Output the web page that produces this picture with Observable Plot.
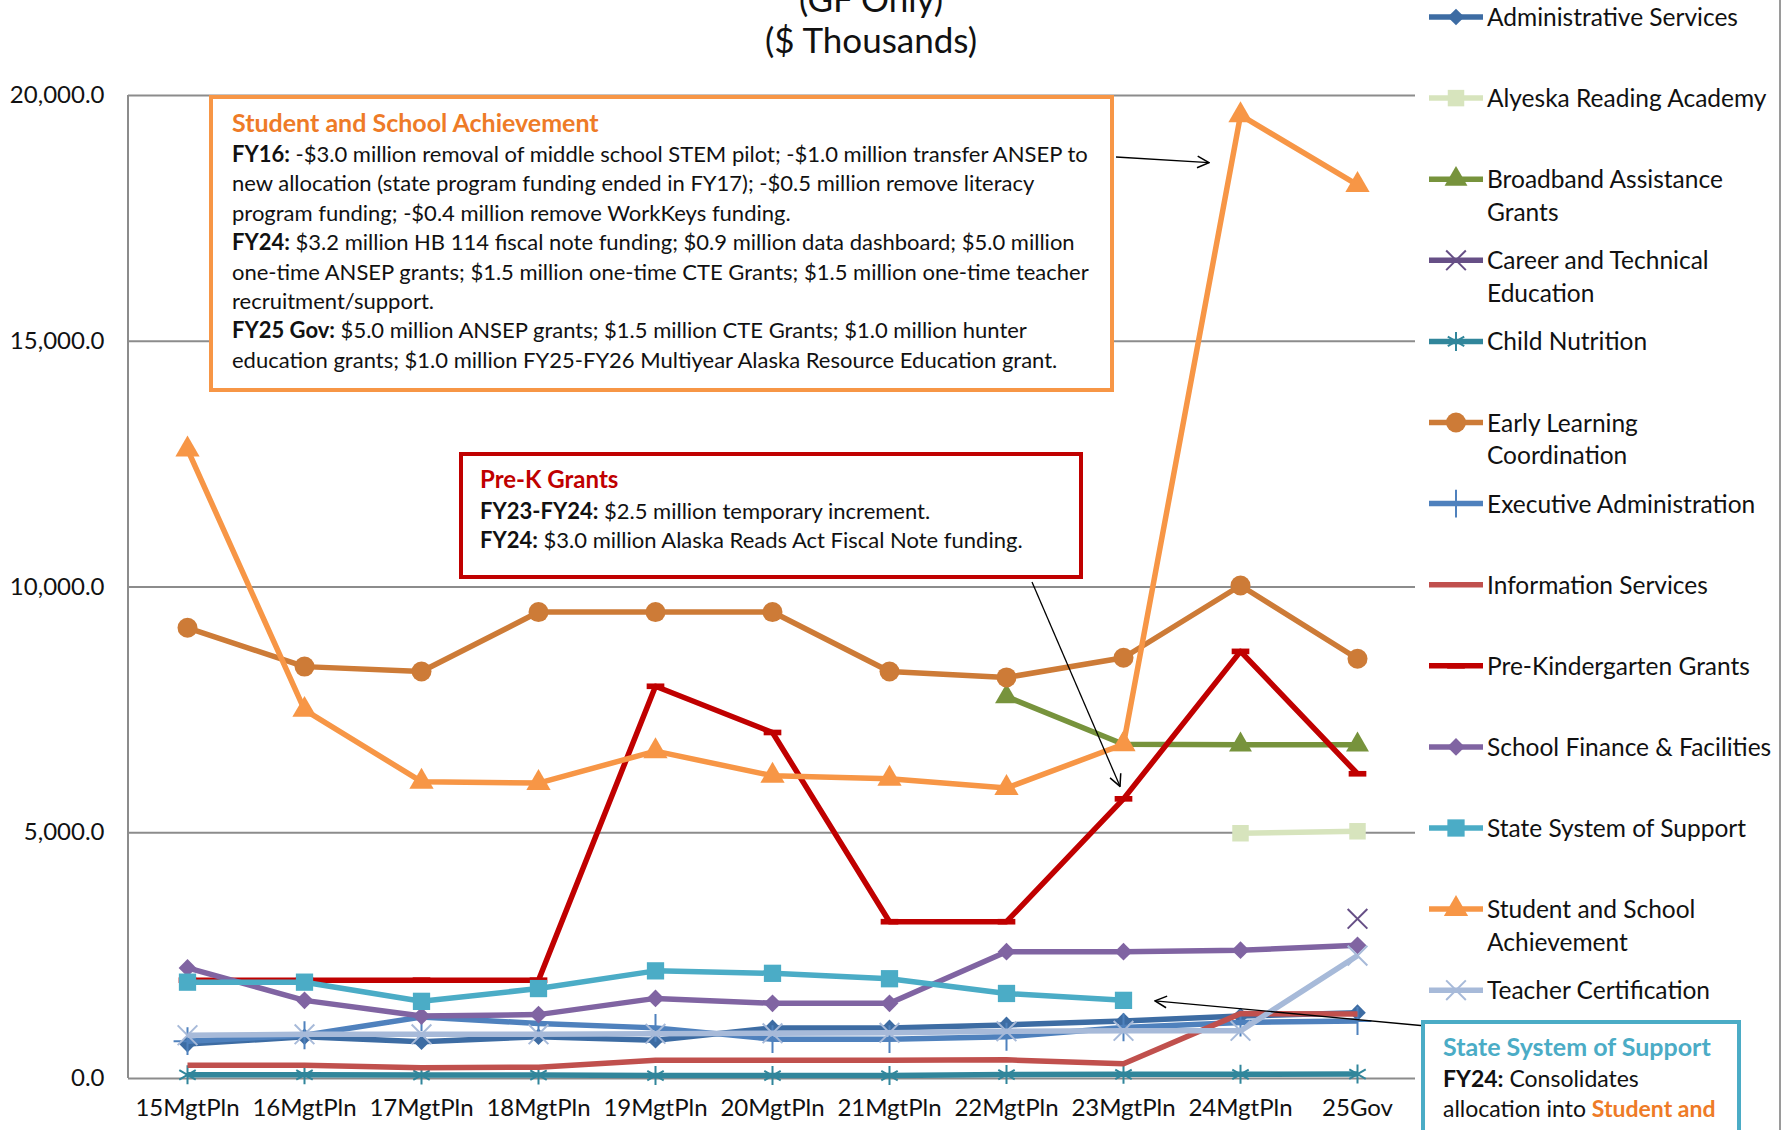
<!DOCTYPE html>
<html><head><meta charset="utf-8">
<script src="https://cdn.jsdelivr.net/npm/d3@7"></script>
<script src="https://cdn.jsdelivr.net/npm/@observablehq/plot@0.6"></script>
<style>
html,body{margin:0;padding:0;background:#fff;overflow:hidden;}
#chart{position:relative;width:1792px;height:1130px;overflow:hidden;}
</style></head><body><div id="chart"></div>
<script>
// ---------- data ----------
const categories = ["15MgtPln","16MgtPln","17MgtPln","18MgtPln","19MgtPln","20MgtPln","21MgtPln","22MgtPln","23MgtPln","24MgtPln","25Gov"];
const administrativeServices   = [700, 850, 750, 850, 780, 1030, 1030, 1090, 1170, 1270, 1340];
const alyeskaReadingAcademy    = [null, null, null, null, null, null, null, null, null, 4990, 5030];
const broadbandAssistance      = [null, null, null, null, null, null, null, 7770, 6800, 6790, 6790];
const careerTechnical          = [null, null, null, null, null, null, null, null, null, null, 3250];
const childNutrition           = [75, 75, 70, 70, 60, 60, 60, 80, 85, 85, 90];
const earlyLearning            = [9170, 8380, 8280, 9490, 9490, 9490, 8280, 8160, 8560, 10030, 8540];
const executiveAdministration  = [760, 880, 1250, 1120, 1030, 800, 800, 850, 1040, 1140, 1170];
const informationServices      = [270, 270, 220, 230, 370, 370, 370, 380, 300, 1320, 1310];
const preKindergartenGrants    = [2000, 2000, 2000, 2000, 7980, 7040, 3190, 3190, 5690, 8690, 6200];
const schoolFinance            = [2250, 1590, 1270, 1300, 1630, 1530, 1530, 2580, 2580, 2610, 2710];
const stateSystemOfSupport     = [1960, 1960, 1570, 1830, 2190, 2140, 2030, 1730, 1590, null, null];
const studentSchoolAchievement = [12800, 7500, 6040, 6010, 6660, 6160, 6100, 5910, 6800, 19600, 18180];
const teacherCertification     = [880, 900, 900, 900, 910, 920, 930, 960, 970, 970, 2500];
const yTicks = [0, 5000, 10000, 15000, 20000];
const seriesNames = ["Administrative Services","Alyeska Reading Academy","Broadband Assistance Grants","Career and Technical Education","Child Nutrition","Early Learning Coordination","Executive Administration","Information Services","Pre-Kindergarten Grants","School Finance & Facilities","State System of Support","Student and School Achievement","Teacher Certification"];
const seriesValues = [administrativeServices, alyeskaReadingAcademy, broadbandAssistance, careerTechnical, childNutrition, earlyLearning, executiveAdministration, informationServices, preKindergartenGrants, schoolFinance, stateSystemOfSupport, studentSchoolAchievement, teacherCertification];
const legendLines = [["Administrative Services"],["Alyeska Reading Academy"],["Broadband Assistance","Grants"],["Career and Technical","Education"],["Child Nutrition"],["Early Learning","Coordination"],["Executive Administration"],["Information Services"],["Pre-Kindergarten Grants"],["School Finance & Facilities"],["State System of Support"],["Student and School","Achievement"],["Teacher Certification"]];

// ---------- styles ----------
const dash = {draw(ctx, size){ const w = Math.sqrt(size)*1.05, h = w*0.32; ctx.rect(-w/2, -h/2, w, h); }};
const styles = [
  {color:"#3D6CA3", symbol:d3.symbolDiamond2, fill:true, r:7.5},
  {color:"#D7E4BD", symbol:d3.symbolSquare2, fill:true, r:10.5},
  {color:"#77933C", symbol:d3.symbolTriangle, fill:true, r:8.5},
  {color:"#664F86", symbol:d3.symbolTimes, fill:false, r:9},
  {color:"#31869B", symbol:d3.symbolAsterisk, fill:false, r:9},
  {color:"#CD7B37", symbol:d3.symbolCircle, fill:true, r:10},
  {color:"#4F81BD", symbol:d3.symbolPlus, fill:false, r:9},
  {color:"#C0504D", symbol:null},
  {color:"#C00000", symbol:dash, fill:true, r:9.5},
  {color:"#8064A2", symbol:d3.symbolDiamond2, fill:true, r:8},
  {color:"#4BACC6", symbol:d3.symbolSquare2, fill:true, r:11},
  {color:"#F79646", symbol:d3.symbolTriangle, fill:true, r:9},
  {color:"#A7BAD9", symbol:d3.symbolTimes, fill:false, r:9}
];

const rows = seriesNames.flatMap((name, si) => seriesValues[si].map((v, i) => ({series:name, si, cat:categories[i], value:v})));

const marks = [
  Plot.gridY({ticks: yTicks, stroke:"#8C8C8C", strokeOpacity:1, strokeWidth:2}),
  Plot.axisY({ticks: yTicks, tickSize:0, tickPadding:24, tickFormat:d3.format(",.1f"), label:null, fontSize:24}),
  Plot.axisX({tickSize:0, tickPadding:20, label:null, fontSize:24})
];
seriesNames.forEach((name, si) => {
  const st = styles[si];
  const d = rows.filter(r => r.si === si);
  marks.push(Plot.line(d, {x:"cat", y:"value", stroke:st.color, strokeWidth:5.5, strokeLinejoin:"round", strokeLinecap:"butt"}));
  if (st.symbol) {
    marks.push(Plot.dot(d.filter(r => r.value != null), {x:"cat", y:"value", symbol:st.symbol, r:st.r,
      fill: st.fill ? st.color : "none", stroke: st.fill ? "none" : st.color, strokeWidth: st.fill ? 0 : 2}));
  }
});

const plot = Plot.plot({
  width:1792, height:1130,
  marginLeft:128, marginRight:377, marginTop:95, marginBottom:52,
  style:{fontFamily:"Lato, 'Open Sans', sans-serif", fontSize:"24px", color:"#111", background:"#fff"},
  x:{type:"point", domain:categories, padding:0.5},
  y:{domain:[0,20000]},
  marks
});
document.getElementById("chart").appendChild(plot);

// ---------- decorations ----------
const svg = d3.select(plot);
const xs = plot.scale("x"), ys = plot.scale("y");
const X = c => xs.apply(c), Y = v => ys.apply(v);
const [x0, x1] = xs.range;
svg.append("line").attr("x1", x0).attr("x2", x0).attr("y1", Y(20000)).attr("y2", Y(0)).attr("stroke", "#8C8C8C").attr("stroke-width", 2);
svg.append("line").attr("x1", 1780).attr("x2", 1780).attr("y1", 0).attr("y2", 1130).attr("stroke", "#9A9A9A").attr("stroke-width", 2);

const F = "Lato, 'Open Sans', sans-serif";
const title = svg.append("g").attr("font-family", F).attr("font-size", 35).attr("text-anchor", "middle").attr("fill", "#111");
title.append("text").attr("x", 871).attr("y", 12).text("(GF Only)");
title.append("text").attr("x", 871).attr("y", 53).text("($ Thousands)");

// legend
const lg = svg.append("g").attr("font-family", F).attr("font-size", 24.5).attr("fill", "#111").attr("text-anchor", "start");
seriesNames.forEach((name, i) => {
  const st = styles[i];
  const cy = 17 + 81.1 * i;
  lg.append("line").attr("x1", 1429).attr("x2", 1483).attr("y1", cy).attr("y2", cy).attr("stroke", st.color).attr("stroke-width", 5.5);
  if (st.symbol) {
    lg.append("path").attr("transform", `translate(1456,${cy})`)
      .attr("d", d3.symbol(st.symbol, Math.PI * st.r * st.r)())
      .attr("fill", st.fill ? st.color : "none").attr("stroke", st.fill ? "none" : st.color).attr("stroke-width", 2);
  }
  legendLines[i].forEach((t, k) => {
    lg.append("text").attr("x", 1487).attr("y", cy + 9 + 32.5 * k).text(t);
  });
});

const defs = svg.append("defs");
defs.append("marker").attr("id", "arr").attr("viewBox", "0 0 12 12").attr("refX", 11).attr("refY", 6)
  .attr("markerWidth", 14).attr("markerHeight", 14).attr("markerUnits", "userSpaceOnUse").attr("orient", "auto")
  .append("path").attr("d", "M1,1 L11,6 L1,11").attr("fill", "none").attr("stroke", "#000").attr("stroke-width", 1.3);

function box(g, x, y, w, h, color) {
  g.append("rect").attr("x", x).attr("y", y).attr("width", w).attr("height", h)
    .attr("fill", "#fff").attr("stroke", color).attr("stroke-width", 4);
}
function para(g, x, y0, lh, size, lines) {
  lines.forEach((segs, i) => {
    const t = g.append("text").attr("x", x).attr("y", y0 + i * lh).attr("font-size", size).attr("font-family", F).attr("text-anchor", "start");
    segs.forEach(s => t.append("tspan").attr("font-weight", s.b ? 700 : 400).attr("fill", s.c || "#111").text(s.t));
  });
}
const ann = svg.append("g").attr("text-anchor", "start");
function arrow(xa, ya, xb, yb) {
  ann.append("line").attr("x1", xa).attr("y1", ya).attr("x2", xb).attr("y2", yb)
    .attr("stroke", "#000").attr("stroke-width", 1.3).attr("marker-end", "url(#arr)");
}
arrow(1116, 157, X("24MgtPln") - 31, Y(19600) + 48);
arrow(1032, 582, X("23MgtPln") - 3, Y(5690) - 12);
arrow(1426, 1026, X("23MgtPln") + 32, Y(1590) + 1);

box(ann, 211, 97, 901, 293, "#F79646");
para(ann, 232, 132, 29.4, 25, [
  [{t:"Student and School Achievement", b:true, c:"#EE7B27"}]
]);
para(ann, 232, 162, 29.4, 22, [
  [{t:"FY16:", b:true},{t:" -$3.0 million removal of middle school STEM pilot; -$1.0 million transfer ANSEP to"}],
  [{t:"new allocation (state program funding ended in FY17); -$0.5 million remove literacy"}],
  [{t:"program funding; -$0.4 million remove WorkKeys funding."}],
  [{t:"FY24:", b:true},{t:" $3.2 million HB 114 fiscal note funding; $0.9 million data dashboard; $5.0 million"}],
  [{t:"one-time ANSEP grants; $1.5 million one-time CTE Grants; $1.5 million one-time teacher"}],
  [{t:"recruitment/support."}],
  [{t:"FY25 Gov:", b:true},{t:" $5.0 million ANSEP grants; $1.5 million CTE Grants; $1.0 million hunter"}],
  [{t:"education grants; $1.0 million FY25-FY26 Multiyear Alaska Resource Education grant."}]
]);

box(ann, 461, 454, 620, 123, "#C00000");
para(ann, 480, 488, 29, 24, [[{t:"Pre-K Grants", b:true, c:"#C00000"}]]);
para(ann, 480, 519, 28.5, 22, [
  [{t:"FY23-FY24:", b:true},{t:" $2.5 million temporary increment."}],
  [{t:"FY24:", b:true},{t:" $3.0 million Alaska Reads Act Fiscal Note funding."}]
]);

box(ann, 1423, 1022, 316, 160, "#4BACC6");
para(ann, 1443, 1056, 29, 25, [[{t:"State System of Support", b:true, c:"#4BACC6"}]]);
para(ann, 1443, 1087, 30, 23, [
  [{t:"FY24:", b:true},{t:" Consolidates"}],
  [{t:"allocation into "},{t:"Student and", b:true, c:"#EE7B27"}],
  [{t:"School Achievement.", b:true, c:"#EE7B27"}]
]);
</script></body></html>
